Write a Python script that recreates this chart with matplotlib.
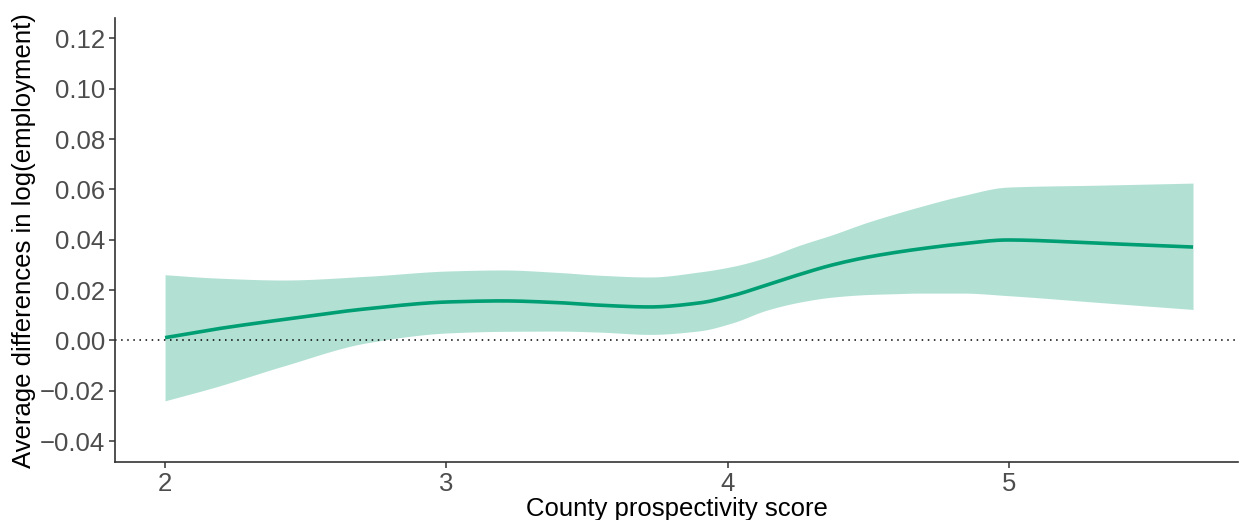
import numpy as np
import matplotlib
matplotlib.use('Agg')
import matplotlib.pyplot as plt

# 数值（估计）
score = [2.0, 2.18, 2.42, 2.72, 3.01, 3.2, 3.4, 3.545, 3.723, 3.90, 4.018, 4.139,
         4.256, 4.373, 4.494, 4.611, 4.68, 4.835, 4.995, 5.33, 5.655]
estimate = [0.0011, 0.0045, 0.0083, 0.0126, 0.0153, 0.0157, 0.0150, 0.0140, 0.0133, 0.0149, 0.0178, 0.0220,
            0.0262, 0.0300, 0.0330, 0.0352, 0.0363, 0.0384, 0.0399, 0.03855, 0.0371]
upper = [0.0261, 0.0248, 0.0240, 0.0255, 0.0276, 0.0280, 0.0270, 0.0259, 0.0252, 0.0272, 0.0294, 0.0330,
         0.0378, 0.0420, 0.0468, 0.0508, 0.0530, 0.0575, 0.0609, 0.0617, 0.0625]
lower = [-0.024, -0.0185, -0.0102, -0.0009, 0.0030, 0.0036, 0.0037, 0.0033, 0.0024, 0.0038, 0.0070, 0.0120,
         0.0152, 0.0172, 0.0182, 0.0186, 0.0188, 0.0188, 0.0178, 0.0150, 0.0123]

yticks = [-0.04, -0.02, 0.00, 0.02, 0.04, 0.06, 0.08, 0.10, 0.12]
xticks = [2, 3, 4, 5]

plt.rcParams['font.family'] = ['Liberation Sans', 'DejaVu Sans']

fig = plt.figure(figsize=(12.43, 5.2), dpi=100)
ax = fig.add_axes([0.0925, 0.1115, 0.9035, 0.8535])

xs = np.linspace(min(score), max(score), 500)

def smooth(vals):
    # 分段三次 Hermite 插值（单调保持）
    x = np.array(score); y = np.array(vals)
    h = np.diff(x); d = np.diff(y) / h
    m = np.zeros_like(y)
    for i in range(1, len(y) - 1):
        if d[i - 1] * d[i] > 0:
            w1 = 2 * h[i] + h[i - 1]; w2 = h[i] + 2 * h[i - 1]
            m[i] = (w1 + w2) / (w1 / d[i - 1] + w2 / d[i])
    m[0] = d[0]; m[-1] = d[-1]
    k = np.clip(np.searchsorted(x, xs, side='right') - 1, 0, len(x) - 2)
    s = (xs - x[k]) / h[k]
    h00 = 2*s**3 - 3*s**2 + 1; h10 = s**3 - 2*s**2 + s
    h01 = -2*s**3 + 3*s**2; h11 = s**3 - s**2
    return h00*y[k] + h10*h[k]*m[k] + h01*y[k+1] + h11*h[k]*m[k+1]

ax.fill_between(xs, smooth(lower), smooth(upper), color='#009E73', alpha=0.3, linewidth=0)
ax.plot(xs, smooth(estimate), color='#009E73', linewidth=2.6, solid_capstyle='butt')
ax.axhline(0, color='black', linestyle=(0, (1, 3)), linewidth=1.1)

ax.set_xlim(1.822, 5.815)
ax.set_ylim(-0.0483, 0.128)
ax.set_xticks(xticks)
ax.set_yticks(yticks)
ax.set_xticklabels([str(t) for t in xticks])
ax.set_yticklabels([f'{t:.2f}'.replace('-', '\u2212') for t in yticks])

for s in ['top', 'right']:
    ax.spines[s].set_visible(False)
for s in ['left', 'bottom']:
    ax.spines[s].set_color('#333333')
    ax.spines[s].set_linewidth(1.2)
ax.tick_params(axis='both', colors='#333333', length=4, width=1.1, labelsize=18.5, labelcolor='#4D4D4D', pad=3)

ax.set_xlabel('County prospectivity score', fontsize=18.5, labelpad=1)
ax.set_ylabel('Average differences in log(employment)', fontsize=18.5, labelpad=3)

fig.savefig('out.png', dpi=100)
